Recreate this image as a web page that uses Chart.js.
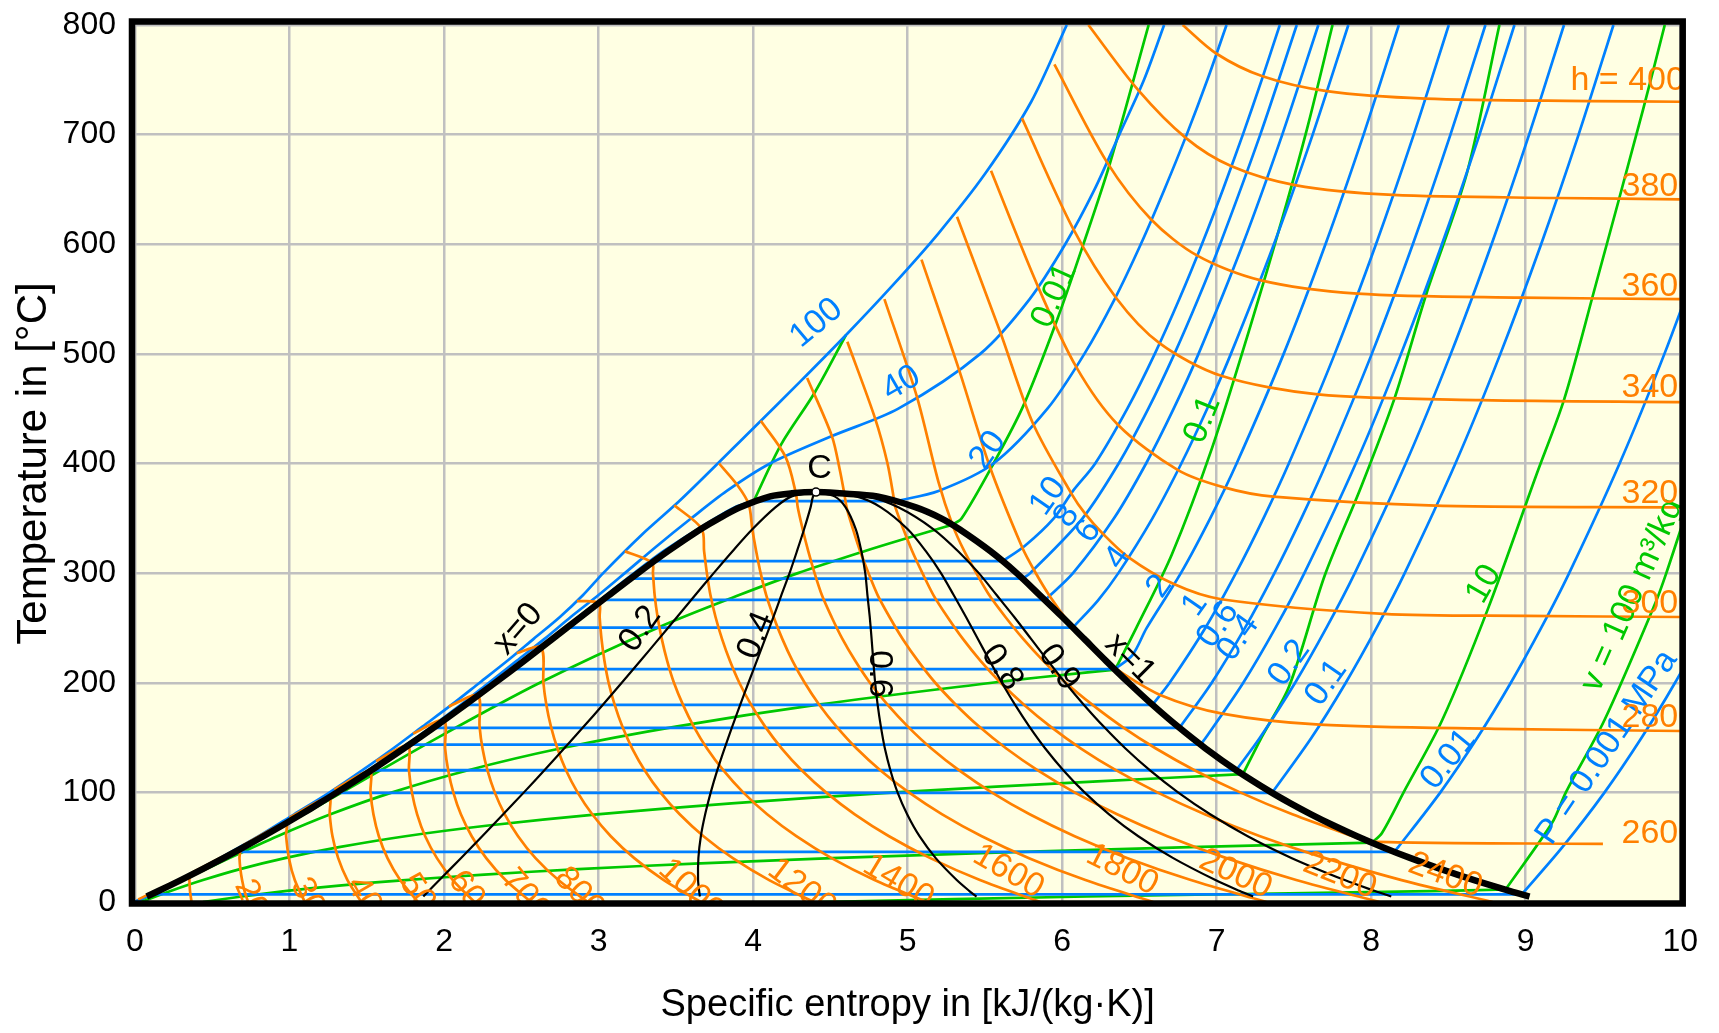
<!DOCTYPE html>
<html>
<head>
<meta charset="utf-8">
<title>T-s diagram of water</title>
<script src="https://cdn.jsdelivr.net/npm/chart.js@4.4.1/dist/chart.umd.min.js"></script>
<style>
  html, body { margin: 0; padding: 0; background: #ffffff; }
  canvas { display: block; }
</style>
</head>
<body>
<canvas id="tsChart" width="1719" height="1033" style="width:1719px;height:1033px"></canvas>
<script>
// T-s diagram of water. All points are [s in kJ/(kg K), T in degC].

// saturation dome (x=0 on the left, x=1 on the right)
var satDome = [[0.076,5],[0.1511,10],[0.2965,20],[0.4368,30],[0.5724,40],[0.7038,50],[0.8313,60],[0.9551,70],
  [1.0756,80],[1.1929,90],[1.3072,100],[1.5279,120],[1.7392,140],[1.9426,160],[2.1392,180],[2.3305,200],
  [2.5177,220],[2.7021,240],[2.8849,260],[3.0685,280],[3.2552,300],[3.4494,320],[3.6601,340],[3.78,350],
  [3.9167,360],[4.1112,370],[4.25,372.8],[4.407,373.95],[4.56,372.8],[4.8042,370],[5.054,360],[5.2177,350],
  [5.3356,340],[5.5357,320],[5.7059,300],[5.855,280],[6.0016,260],[6.1429,240],[6.2841,220],[6.4302,200],
  [6.584,180],[6.7492,160],[6.9293,140],[7.1292,120],[7.3542,100],[7.4781,90],[7.6111,80],[7.754,70],
  [7.9082,60],[8.0748,50],[8.2556,40],[8.452,30],[8.6661,20],[8.8999,10],[9.0249,5]];
var critPoint = [[4.407,373.95]];

// lines of constant quality
var x02 = [[4.407,373.95],[4.25,370],[4.144,360],[3.995,340],[3.867,320],[3.745,300],[3.626,280],[3.508,260],[3.39,240],
  [3.271,220],[3.15,200],[3.028,180],[2.904,160],[2.777,140],[2.648,120],[2.517,100],[2.383,80],[2.247,60],[2.109,40],
  [1.97,20],[1.90,10],[1.866,5]];
var x04 = [[4.407,373.95],[4.388,370],[4.372,360],[4.33,340],[4.284,320],[4.236,300],[4.183,280],[4.132,260],[4.078,240],
  [4.024,220],[3.97,200],[3.917,180],[3.865,160],[3.815,140],[3.768,120],[3.726,100],[3.69,80],[3.662,60],[3.646,40],
  [3.644,20],[3.651,10],[3.656,5]];
var x06 = [[4.407,373.95],[4.527,370],[4.599,360],[4.665,340],[4.701,320],[4.726,300],[4.74,280],[4.755,260],[4.767,240],
  [4.778,220],[4.79,200],[4.806,180],[4.827,160],[4.853,140],[4.889,120],[4.935,100],[4.997,80],[5.077,60],[5.182,40],
  [5.318,20],[5.40,10],[5.446,5]];
var x08 = [[4.407,373.95],[4.666,370],[4.827,360],[5.001,340],[5.118,320],[5.216,300],[5.298,280],[5.378,260],[5.455,240],
  [5.531,220],[5.61,200],[5.695,180],[5.788,160],[5.891,140],[6.009,120],[6.145,100],[6.304,80],[6.493,60],[6.719,40],
  [6.992,20],[7.15,10],[7.236,5]];
var x09 = [[4.407,373.95],[4.735,370],[4.94,360],[5.168,340],[5.327,320],[5.461,300],[5.576,280],[5.69,260],[5.799,240],
  [5.908,220],[6.02,200],[6.14,180],[6.269,160],[6.41,140],[6.569,120],[6.75,100],[6.958,80],[7.201,60],[7.487,40],
  [7.829,20],[8.025,10],[8.13,5]];

// isobars (MPa)
var p100 = [[0.0,0],[0.28,20],[0.55,40],[0.80,60],[1.03,80],[1.26,100],[1.47,120],[1.67,140],[1.86,160],[2.05,180],
  [2.23,200],[2.41,220],[2.58,240],[2.75,260],[2.90,280],[3.03,300],[3.28,335],[3.54,368],[4.0,432],[4.3,474],
  [4.6,517],[4.9,562],[5.2,610],[5.5,664],[5.8,730],[6.03,800]];
var p40 = [[0.0,0],[0.29,20],[0.565,40],[0.82,60],[1.06,80],[1.29,100],[1.51,120],[1.72,140],[1.92,160],[2.11,180],
  [2.29,200],[2.47,220],[2.65,240],[2.82,260],[3.0,280],[3.17,300],[3.38,325],[3.60,350],[3.83,375],[4.11,400],
  [4.51,425],[4.94,450],[5.47,500],[5.79,550],[6.02,600],[6.21,650],[6.37,700],[6.53,750],[6.66,800]];
var p20Liquid = [[0.0,0],[0.295,20],[0.57,40],[0.826,60],[1.07,80],[1.30,100],[1.52,120],[1.73,140],[1.935,160],
  [2.13,180],[2.32,200],[2.505,220],[2.69,240],[2.87,260],[3.05,280],[3.23,300],[3.42,320],[3.64,340],[3.88,360],[4.0146,365.75]];
var p20 = [[4.927,365.75],[5.20,375],[5.556,400],[5.905,450],[6.144,500],[6.34,550],[6.509,600],[6.662,650],[6.806,700],[6.94,750],[7.064,800]];
var p10 = [[5.6159,311.0],[5.7596,325],[5.946,350],[6.0704,375],[6.2141,400],[6.4219,450],[6.5995,500],[6.7585,550],[6.9045,600],[7.0408,650],[7.1696,700],[7.2918,750],[7.4087,800]];
var p8 = [[5.745,295.0],[5.7937,300],[6.1321,350],[6.3658,400],[6.5579,450],[6.7266,500],[6.88,550],[7.0221,600],[7.2822,700],[7.5185,800]];
var p6 = [[5.8902,275.6],[6.0703,300],[6.3357,350],[6.5432,400],[6.7219,450],[6.8826,500],[7.1693,600],[7.4247,700],[7.6582,800]];
var p4 = [[6.0696,250.35],[6.2312,275],[6.3639,300],[6.5843,350],[6.7714,400],[6.9386,450],[7.0922,500],[7.3706,600],[7.6214,700],[7.8523,800]];
var p2 = [[6.339,212.4],[6.4537,225],[6.5475,250],[6.7684,300],[6.9583,350],[7.1292,400],[7.4337,500],[7.7043,600],[7.9509,700],[8.1791,800]];
var p1 = [[6.585,179.9],[6.6955,200],[6.9265,250],[7.1246,300],[7.3029,350],[7.467,400],[7.7642,500],[8.0311,600],[8.2755,700],[8.5024,800]];
var p06 = [[6.7593,158.8],[6.9683,200],[7.1833,250],[7.374,300],[7.5481,350],[7.7097,400],[8.0041,500],[8.2695,600],[8.5131,700],[8.7395,800]];
var p04 = [[6.8955,143.6],[6.9306,150],[7.1723,200],[7.3804,250],[7.5677,300],[7.9003,400],[8.1933,500],[8.458,600],[8.7012,700],[8.9273,800]];
var p02 = [[7.127,120.2],[7.281,150],[7.5081,200],[7.71,250],[7.8941,300],[8.2236,400],[8.5153,500],[8.7793,600],[9.0221,700],[9.2479,800]];
var p01 = [[7.3589,99.6],[7.6148,150],[7.8356,200],[8.0346,250],[8.2171,300],[8.5452,400],[8.8362,500],[9.0999,600],[9.3424,700],[9.568,800]];
var p001 = [[8.1488,45.8],[8.1749,50],[8.4479,100],[8.6882,150],[8.9038,200],[9.1002,250],[9.2813,300],[9.6077,400],[9.8978,500],[10.1608,600]];
var p0001 = [[8.9749,7.0],[9.2376,50],[9.5106,100],[9.7509,150],[9.9665,200],[10.163,250]];

// isobars inside the dome: saturation temperature, liquid and vapour entropy
var wetIsobarT  = [365.75, 311.0, 295.0, 275.6, 250.35, 212.4, 179.9, 158.8, 143.6, 120.2, 99.6, 45.8, 7.0];
var wetIsobarSf = [4.0146, 3.3603, 3.2081, 3.0275, 2.7968, 2.4467, 2.1381, 1.9308, 1.7765, 1.5302, 1.3028, 0.6492, 0.1059];
var wetIsobarSg = [4.927, 5.6159, 5.745, 5.8902, 6.0696, 6.339, 6.585, 6.7593, 6.8955, 7.127, 7.3589, 8.1488, 8.9749];

// isochores (m3/kg)
var v0002 = [[4.0,364.5],[4.18,417],[4.4,465],[4.6,517]];
var v001Wet = [[0.0,0],[0.71,50],[1.34,100],[1.96,150],[2.62,200],[3.38,250],[3.91,280],[4.29,300],[4.72,320],[4.95,330],[5.19,340],[5.288,344]];
var v001 = [[5.288,344],[5.35,350],[5.556,400],[5.75,453],[5.97,532],[6.14,601],[6.31,674],[6.56,800]];
var v01Wet = [[0.004,0],[0.311,20],[0.611,40],[0.922,60],[1.265,80],[1.665,100],[2.15,120],[2.75,140],[3.50,160],[4.42,180],[5.546,200],[5.86,205],[6.343,212]];
var v01 = [[6.343,212],[6.48,250],[6.71,317],[6.97,414],[7.22,526],[7.43,626],[7.59,708],[7.75,800]];
var v1Wet = [[0.04,0],[0.23,10],[0.44,20],[0.68,30],[0.97,40],[1.32,50],[1.75,60],[2.30,70],[2.99,80],[3.86,90],[4.92,100],[6.23,110],[7.17,116.6]];
var v1 = [[7.17,116.6],[7.29,150],[7.47,197],[7.70,298],[7.93,377],[8.15,459],[8.36,556],[8.62,665],[8.83,800]];
var v10Wet = [[0.44,0],[0.69,5],[0.97,10],[1.32,15],[1.75,20],[2.26,25],[2.87,30],[3.62,35],[4.51,40],[5.57,45],[6.83,50],[8.005,54.1]];
var v10 = [[8.005,54.1],[8.07,63],[8.21,100],[8.46,166],[8.76,269],[9.07,390],[9.25,459],[9.44,556],[9.76,723],[9.9,800]];
var v100Wet = [[4.44,0],[6.16,5],[8.38,10],[8.87,11.4]];
var v100 = [[8.87,11.4],[9.17,72],[9.26,100],[9.51,166],[9.84,273],[9.91,300],[10.05,360]];

// isenthalps (kJ/kg)
var h100 = [[0.02,2.4],[0.35,23.9],[0.352,20],[0.356,10],[0.366,0]];
var h200 = [[0.37,26.8],[0.675,47.8],[0.676,40],[0.682,30],[0.693,20],[0.709,10],[0.732,0]];
var h300 = [[0.70,51.7],[0.975,71.7],[0.978,60],[0.996,40],[1.034,20],[1.099,0]];
var h400 = [[1.0,77],[1.255,95.5],[1.26,80],[1.278,60],[1.315,40],[1.375,20],[1.465,0]];
var h500 = [[1.29,102.6],[1.518,119.1],[1.524,100],[1.543,80],[1.578,60],[1.634,40],[1.716,20],[1.831,0]];
var h600 = [[1.56,128.5],[1.765,142.5],[1.773,120],[1.792,100],[1.826,80],[1.878,60],[1.954,40],[2.057,20],[2.197,0]];
var h700 = [[1.80,153.6],[1.998,165.6],[2.007,140],[2.027,120],[2.06,100],[2.109,80],[2.179,60],[2.273,40],[2.398,20],[2.563,0]];
var h800 = [[2.03,178.3],[2.218,188.3],[2.23,160],[2.249,140],[2.281,120],[2.328,100],[2.393,80],[2.479,60],[2.592,40],[2.74,20],[2.929,0]];
var h1000 = [[2.47,227],[2.628,232],[2.643,200],[2.662,180],[2.692,160],[2.734,140],[2.79,120],[2.864,100],[2.959,80],[3.079,60],[3.231,40],[3.422,20],[3.661,0]];
var h1200 = [[2.86,274.5],[3.002,272.8],[3.007,260],[3.019,240],[3.038,220],[3.065,200],[3.104,180],[3.154,160],[3.218,140],[3.299,120],[3.40,100],[3.525,80],[3.679,60],[3.869,40],[4.104,20],[4.393,0]];
var h1400 = [[3.17,320],[3.347,309.5],[3.352,300],[3.363,280],[3.382,260],[3.409,240],[3.444,220],[3.488,200],[3.546,180],[3.616,160],[3.702,140],[3.808,120],[3.936,100],[4.091,80],[4.28,60],[4.508,40],[4.786,20],[5.125,0]];
var h1600 = [[3.49,362],[3.667,340.6],[3.683,320],[3.701,300],[3.724,280],[3.757,260],[3.799,240],[3.85,220],[3.911,200],[3.987,180],[4.078,160],[4.186,140],[4.316,120],[4.472,100],[4.658,80],[4.88,60],[5.147,40],[5.468,20],[5.858,0]];
var h1800 = [[3.78,400],[3.90,380],[3.972,362.8],[3.995,340],[4.02,320],[4.049,300],[4.085,280],[4.133,260],[4.189,240],[4.255,220],[4.334,200],[4.428,180],[4.54,160],[4.67,140],[4.825,120],[5.008,100],[5.224,80],[5.48,60],[5.786,40],[6.151,20],[6.589,0]];
var h2000 = [[4.05,439],[4.21,406],[4.278,372.2],[4.289,360],[4.321,340],[4.357,320],[4.398,300],[4.445,280],[4.508,260],[4.578,240],[4.661,220],[4.756,200],[4.87,180],[5.002,160],[5.154,140],[5.334,120],[5.544,100],[5.79,80],[6.081,60],[6.424,40],[6.833,20],[7.322,0]];
var h2200 = [[4.35,478],[4.51,425],[4.56,395],[4.591,372.1],[4.605,360],[4.647,340],[4.693,320],[4.747,300],[4.806,280],[4.883,260],[4.968,240],[5.067,220],[5.179,200],[5.312,180],[5.463,160],[5.639,140],[5.843,120],[6.08,100],[6.356,80],[6.681,60],[7.063,40],[7.515,20],[8.054,0]];
var h2400 = [[4.61,511],[4.79,441],[4.87,400],[4.914,365.6],[4.921,360],[4.973,340],[5.03,320],[5.096,300],[5.167,280],[5.258,260],[5.358,240],[5.472,220],[5.602,200],[5.753,180],[5.925,160],[6.122,140],[6.351,120],[6.616,100],[6.923,80],[7.281,60],[7.702,40],[8.197,20],[8.786,0]];
var h2600 = [[4.85,550],[5.06,461],[5.2,383],[5.291,343.8],[5.367,320],[5.445,300],[5.528,280],[5.633,260],[5.748,240],[5.878,220],[6.024,200],[6.195,180],[6.387,160],[6.607,140],[6.86,120],[7.152,100],[7.49,80],[7.881,60],[7.99,55],[9.5,53]];
var h2800 = [[5.09,586],[5.33,486.8],[5.53,398],[5.742,323.3],[5.816,303.3],[5.918,279.4],[6.06,252],[6.143,240],[6.285,220],[6.343,213],[6.634,188.9],[7.036,171.9],[7.667,161.8],[8.8,158],[10.0,156]];
var h3000 = [[5.32,625],[5.60,519.7],[5.81,437],[6.063,371.9],[6.15,354],[6.262,336.2],[6.428,314.6],[6.723,290],[7.03,276.2],[8.081,262.8],[9.0,261],[10.0,260]];
var h3200 = [[5.54,667],[5.84,562.6],[6.09,488.4],[6.361,435.4],[6.75,394],[7.054,378],[7.368,369.7],[8.419,361.5],[10.0,360]];
var h3400 = [[5.74,715],[6.07,614.5],[6.35,551],[6.63,509.8],[7.03,480],[7.655,463.1],[8.713,457.8],[10.0,456]];
var h3600 = [[5.95,764],[6.29,674.9],[6.578,622.4],[6.875,589.6],[7.28,567.3],[7.911,555],[8.971,551.3],[10.0,550]];
var h3800 = [[6.17,800],[6.49,741],[6.80,697],[7.093,671.3],[7.506,654],[8.141,645],[9.202,642.2],[10.0,641]];
var h4000 = [[6.78,800],[6.997,774],[7.297,753.2],[7.713,739.7],[8.35,732.9],[9.411,730.6],[10.0,730]];

// curve labels: [text, s, T, angle in degrees]
var isobarLabels = [['100',4.41,528,-40],['40',4.96,473,-30],['20',5.52,412,-55],['10',5.91,370,-55],['8',6.03,352,-55],
  ['6',6.17,338,-55],['4',6.36,314,-55],['2',6.63,288,-55],['1',6.86,271,-55],['0.6',7.01,253,-55],['0.4',7.14,241,-55],
  ['0.2',7.47,218,-55],['0.1',7.71,200,-55],['0.01',8.5,130,-51],['P = 0.001 MPa',9.525,141,-56]];
var isochoreLabels = [['0.01',5.95,553,-66],['0.1',6.91,440,-68],['10',8.73,290,-60],['v = 100 m\u00b3/kg',9.69,280,-66]];
var qualityLabels = [['C',4.43,395,0],['x=0',2.48,249,-49],['x=1',6.44,222,45],['0.2',3.27,249,-55],['0.4',4.02,243,-68],
  ['0.6',4.82,208,90],['0.8',5.61,214,55],['0.9',5.98,214,55]];
var enthalpyRightLabels = [['h = 4000',9.29,741],['3800',9.62,644],['3600',9.62,553],['3400',9.62,461],['3200',9.62,364],
  ['3000',9.62,264],['2800',9.62,160],['2600',9.62,54]];
var enthalpyBottomLabels = [['200',0.70,19,66],['300',1.06,20,63],['400',1.42,21,60],['500',1.76,23,57],['600',2.07,25,53],
  ['700',2.41,26,50],['800',2.75,27,47],['1000',3.42,34,43],['1200',4.12,33,37],['1400',4.73,36,31],['1600',5.44,45,30],
  ['1800',6.17,45,27],['2000',6.9,40,25],['2200',7.57,37,22],['2400',8.25,36,20]];

var BLUE = '#0080ff';
var GREEN = '#00c800';
var ORANGE = '#ff8000';
var PLOT_BG = '#ffffe3';
var GRID = '#c0c0c0';
var FONT_FAMILY = '"Liberation Sans", Arial, sans-serif';
var LABEL_FONT = '34px ' + FONT_FAMILY;

function toXY(arr) {
    return arr.map(function (p) { return { x: p[0], y: p[1] }; });
}

function curve(arr, color, width, order, tension) {
    return {
        data: toXY(arr),
        showLine: true,
        borderColor: color,
        backgroundColor: color,
        borderWidth: width,
        pointRadius: 0,
        pointHoverRadius: 0,
        fill: false,
        tension: tension,
        order: order
    };
}

var datasets = [];

// black: dome and quality lines on top
datasets.push({
    data: toXY(critPoint), showLine: false, pointRadius: 4, pointHoverRadius: 4,
    pointBackgroundColor: '#ffffff', pointBorderColor: '#000000', pointBorderWidth: 1.5, order: -1
});
datasets.push(curve(satDome, '#000000', 6.5, 0, 0.3));
[x02, x04, x06, x08, x09].forEach(function (q) {
    datasets.push(curve(q, '#000000', 2.2, 1, 0.3));
});

// orange isenthalps
[h100, h200, h300, h400, h500, h600, h700, h800, h1000, h1200, h1400, h1600, h1800, h2000, h2200,
 h2400, h2600, h2800, h3000, h3200, h3400, h3600, h3800, h4000].forEach(function (h) {
    datasets.push(curve(h, ORANGE, 2.7, 2, 0.3));
});

// blue isobars
[p100, p40, p20Liquid, p20, p10, p8, p6, p4, p2, p1, p06, p04, p02, p01, p001, p0001].forEach(function (p) {
    datasets.push(curve(p, BLUE, 2.7, 3, 0.3));
});
for (var i = 0; i < wetIsobarT.length; i++) {
    datasets.push(curve([[wetIsobarSf[i], wetIsobarT[i]], [wetIsobarSg[i], wetIsobarT[i]]], BLUE, 2.8, 3, 0));
}

// green isochores
[v0002, v001Wet, v001, v01Wet, v01, v1Wet, v1, v10Wet, v10, v100Wet, v100].forEach(function (v) {
    datasets.push(curve(v, GREEN, 2.7, 4, 0.3));
});

function drawText(ctx, xs, ys, item, color, align, baseline) {
    ctx.save();
    ctx.translate(xs.getPixelForValue(item[1]), ys.getPixelForValue(item[2]));
    ctx.rotate((item[3] || 0) * Math.PI / 180);
    ctx.fillStyle = color;
    ctx.textAlign = align;
    ctx.textBaseline = baseline;
    ctx.fillText(item[0], 0, 0);
    ctx.restore();
}

var diagramPlugin = {
    id: 'diagramDecor',
    beforeDraw: function (chart) {
        var a = chart.chartArea;
        var ctx = chart.ctx;
        ctx.save();
        ctx.fillStyle = PLOT_BG;
        ctx.fillRect(a.left, a.top, a.right - a.left, a.bottom - a.top);
        ctx.restore();
    },
    afterDatasetsDraw: function (chart) {
        var a = chart.chartArea;
        var ctx = chart.ctx;
        var xs = chart.scales.x;
        var ys = chart.scales.y;

        ctx.save();
        ctx.beginPath();
        ctx.rect(a.left, a.top, a.right - a.left, a.bottom - a.top);
        ctx.clip();
        ctx.font = LABEL_FONT;
        isobarLabels.forEach(function (l) { drawText(ctx, xs, ys, l, BLUE, 'center', 'middle'); });
        isochoreLabels.forEach(function (l) { drawText(ctx, xs, ys, l, GREEN, 'center', 'middle'); });
        qualityLabels.forEach(function (l) { drawText(ctx, xs, ys, l, '#000000', 'center', 'middle'); });
        enthalpyRightLabels.forEach(function (l) { drawText(ctx, xs, ys, l, ORANGE, 'left', 'alphabetic'); });
        enthalpyBottomLabels.forEach(function (l) { drawText(ctx, xs, ys, l, ORANGE, 'left', 'middle'); });
        ctx.restore();

        // thick frame round the plot
        ctx.save();
        ctx.strokeStyle = '#000000';
        ctx.lineWidth = 6.5;
        ctx.strokeRect(a.left - 3, a.top - 3.5, a.right - a.left + 5.5, a.bottom - a.top + 5);
        ctx.restore();
    }
};

var chart = new Chart(document.getElementById('tsChart'), {
    type: 'scatter',
    data: { datasets: datasets },
    options: {
        responsive: false,
        animation: false,
        devicePixelRatio: 1,
        events: [],
        layout: { padding: { left: 0, right: 37, top: 25, bottom: 0 } },
        plugins: {
            legend: { display: false },
            tooltip: { enabled: false }
        },
        scales: {
            x: {
                type: 'linear',
                min: 0,
                max: 10,
                ticks: { stepSize: 1, padding: 21, color: '#000000', font: { family: FONT_FAMILY, size: 32 } },
                grid: { color: GRID, lineWidth: 2.5, drawTicks: false },
                border: { display: false },
                title: {
                    display: true,
                    text: 'Specific entropy in [kJ/(kg\u00b7K)]',
                    color: '#000000',
                    font: { family: FONT_FAMILY, size: 38 },
                    padding: { top: 0, bottom: 5 }
                },
                afterFit: function (scale) { scale.height = 131; }
            },
            y: {
                type: 'linear',
                min: 0,
                max: 800,
                ticks: { stepSize: 100, padding: 19, color: '#000000', font: { family: FONT_FAMILY, size: 32 } },
                grid: { color: GRID, lineWidth: 2.5, drawTicks: false },
                border: { display: false },
                title: {
                    display: true,
                    text: 'Temperature in [\u00b0C]',
                    color: '#000000',
                    font: { family: FONT_FAMILY, size: 42 },
                    padding: { top: 9, bottom: 0 }
                },
                afterFit: function (scale) {
                    scale.width = 135;
                    scale.paddingTop = 0;
                    scale.paddingBottom = 0;
                }
            }
        }
    },
    plugins: [diagramPlugin]
});
</script>
</body>
</html>
